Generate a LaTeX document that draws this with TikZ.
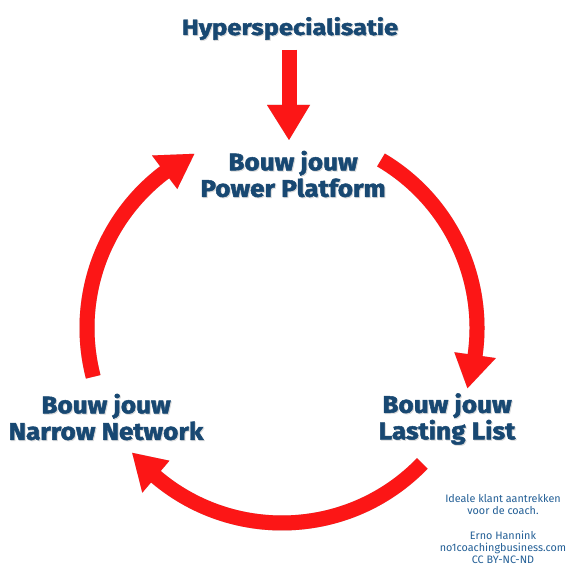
\documentclass[tikz,border=0pt]{standalone}
\usepackage{fontspec}
\setmainfont{Fira Sans}
\newfontfamily\heavy[BoldFeatures={FakeBold=2,FakeStretch=1.09}]{Fira Sans}
\newfontfamily\heavyhyper[BoldFeatures={FakeBold=2,FakeStretch=1.16}]{Fira Sans}
\usetikzlibrary{calc}
\definecolor{arrowred}{RGB}{252,22,22}
\definecolor{titleblue}{RGB}{24,72,114}
\definecolor{noteblue}{RGB}{35,95,150}
\newcommand\R{195}
% #1 start angle, #2 head base angle, #3 tip angle, #4 colour
\newcommand\ringarrowpart[4]{%
  \draw[draw=#4, line width=15pt] (C) ++(#1:\R) arc[start angle=#1, end angle=#2-1, radius=\R];
  \fill[#4] ($(C)+(#2:\R+21)$) -- ($(C)+(#3:\R)$) -- ($(C)+(#2:\R-21)$) -- cycle;}
\newcommand\ringarrow[3]{%
  \begin{scope}[shift={(3,-4)}]\ringarrowpart{#1}{#2}{#3}{black!9}\end{scope}
  \begin{scope}[shift={(1.5,-2)}]\ringarrowpart{#1}{#2}{#3}{black!20}\end{scope}
  \ringarrowpart{#1}{#2}{#3}{arrowred}}
\begin{document}
\begin{tikzpicture}[x=1pt,y=1pt,
  big/.style={font=\heavy\bfseries\fontsize{24}{26.5}\selectfont, text=titleblue, align=center, inner sep=0pt},
  bigshadow/.style={big, text=black!14},
  note/.style={font=\fontsize{10.8}{12}\selectfont, text=noteblue, align=center, inner sep=0pt},
]
\useasboundingbox (0,0) rectangle (580,572);
\fill[white] (0,0) rectangle (580,572);
\coordinate (C) at (282,244);

% ring arrows
\ringarrow{59.5}{-8}{-18}
\ringarrow{-44}{-130.3}{-140.2}
\ringarrow{194.5}{127}{116.7}

% text shadows
\node[bigshadow, font=\heavyhyper\bfseries\fontsize{22}{26}\selectfont, anchor=base] (hyperS) at (291,536) {Hyperspecialisatie};
\node[bigshadow] (powerS) at (294,397) {Bouw jouw\\Power Platform};
\node[bigshadow] (narrowS) at (107,154) {Bouw jouw\\Narrow Network};
\node[bigshadow] (lastingS) at (448,152) {Bouw jouw\\Lasting List};

% text
\node[big, font=\heavyhyper\bfseries\fontsize{22}{26}\selectfont, anchor=base] (hyper) at (290,537) {Hyperspecialisatie};
\node[big] (power) at (293,398) {Bouw jouw\\Power Platform};
\node[big] (narrow) at (106,155) {Bouw jouw\\Narrow Network};
\node[big] (lasting) at (447,153) {Bouw jouw\\Lasting List};
\node[note, anchor=north] (note) at (503,78) {Ideale klant aantrekken\\voor de coach.\\[13pt]Erno Hannink\\no1coachingbusiness.com\\CC BY-NC-ND};

% down arrow from hyper to power
\coordinate (dTop) at (289,522);
\coordinate (dEnd) at (289,464);
\coordinate (dL) at (267,467);
\coordinate (dR) at (310,467);
\coordinate (dTip) at (289,432);
\foreach \dx/\dy/\col in {3/-4/black!9, 1.5/-2/black!20, 0/0/arrowred}{
  \begin{scope}[shift={(\dx,\dy)}]
    \draw[draw=\col, line width=15pt] (dTop) -- (dEnd);
    \fill[\col] (dL) -- (dTip) -- (dR) -- cycle;
  \end{scope}
}
\end{tikzpicture}
\end{document}
